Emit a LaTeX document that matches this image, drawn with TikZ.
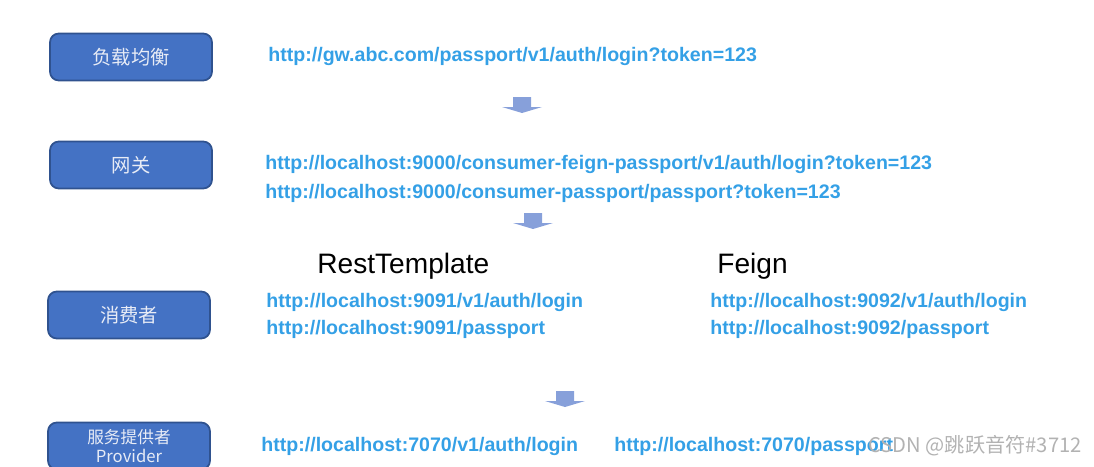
\documentclass[tikz,border=0pt]{standalone}
\usepackage{fontspec}
\setmainfont{Liberation Sans}
\newfontfamily\cjk{Noto Sans CJK SC}
\definecolor{boxblue}{RGB}{68,114,196}
\definecolor{boxedge}{RGB}{47,82,143}
\definecolor{urlblue}{RGB}{52,160,230}
\definecolor{arrowblue}{RGB}{135,160,218}
\definecolor{boxtext}{RGB}{232,236,246}

\begin{document}
\begin{tikzpicture}[x=0.02cm,y=-0.02cm,role/.style={draw=boxedge,line width=1pt,rounded corners=5pt,fill=boxblue,minimum width=3.24cm,minimum height=0.94cm,text=boxtext,font=\cjk\fontsize{11}{13}\selectfont,align=center,inner sep=0pt},url/.style={anchor=west,text=urlblue,font=\bfseries\fontsize{11.15}{13}\selectfont,inner sep=0pt},client/.style={anchor=west,font=\fontsize{16}{18}\selectfont,inner sep=0pt},down/.pic={\fill[arrowblue] (-9,-8) -- (9,-8) -- (9,2) -- (20,2) -- (0,8) -- (-20,2) -- (-9,2) -- cycle;}]
\useasboundingbox (0,0) rectangle (1094,466);
\node[role] (lb) at (131,57) {负载均衡};
\node[url] (lb-url) at (268,56) {http://gw.abc.com/passport/v1/auth/login?token=123};
\pic (step1) at (522,105) {down};
\node[role] (gw) at (131,165) {网关};
\node[url] (gw-url1) at (265,164) {http://localhost:9000/consumer-feign-passport/v1/auth/login?token=123};
\node[url] (gw-url2) at (265,193) {http://localhost:9000/consumer-passport/passport?token=123};
\pic (step2) at (533,221) {down};
\node[client] (rest) at (317,266) {RestTemplate};
\node[client] (feign) at (717,266) {Feign};
\node[role] (consumer) at (129,315) {消费者};
\node[url] (rest-url1) at (266,302) {http://localhost:9091/v1/auth/login};
\node[url] (rest-url2) at (266,329) {http://localhost:9091/passport};
\node[url] (feign-url1) at (710,302) {http://localhost:9092/v1/auth/login};
\node[url] (feign-url2) at (710,329) {http://localhost:9092/passport};
\pic (step3) at (565,399) {down};
\node[role,font=\cjk\fontsize{9.5}{11}\selectfont] (provider) at (129,446) {服务提供者\\Provider};
\node[url] (prov-url1) at (261,446) {http://localhost:7070/v1/auth/login};
\node[url] (prov-url2) at (614,446) {http://localhost:7070/passport};
\node[anchor=west,inner sep=0pt,text=gray!60,font=\cjk\fontsize{11.5}{13}\selectfont] (mark) at (868,446) {CSDN @跳跃音符\#3712};
\end{tikzpicture}
\end{document}
